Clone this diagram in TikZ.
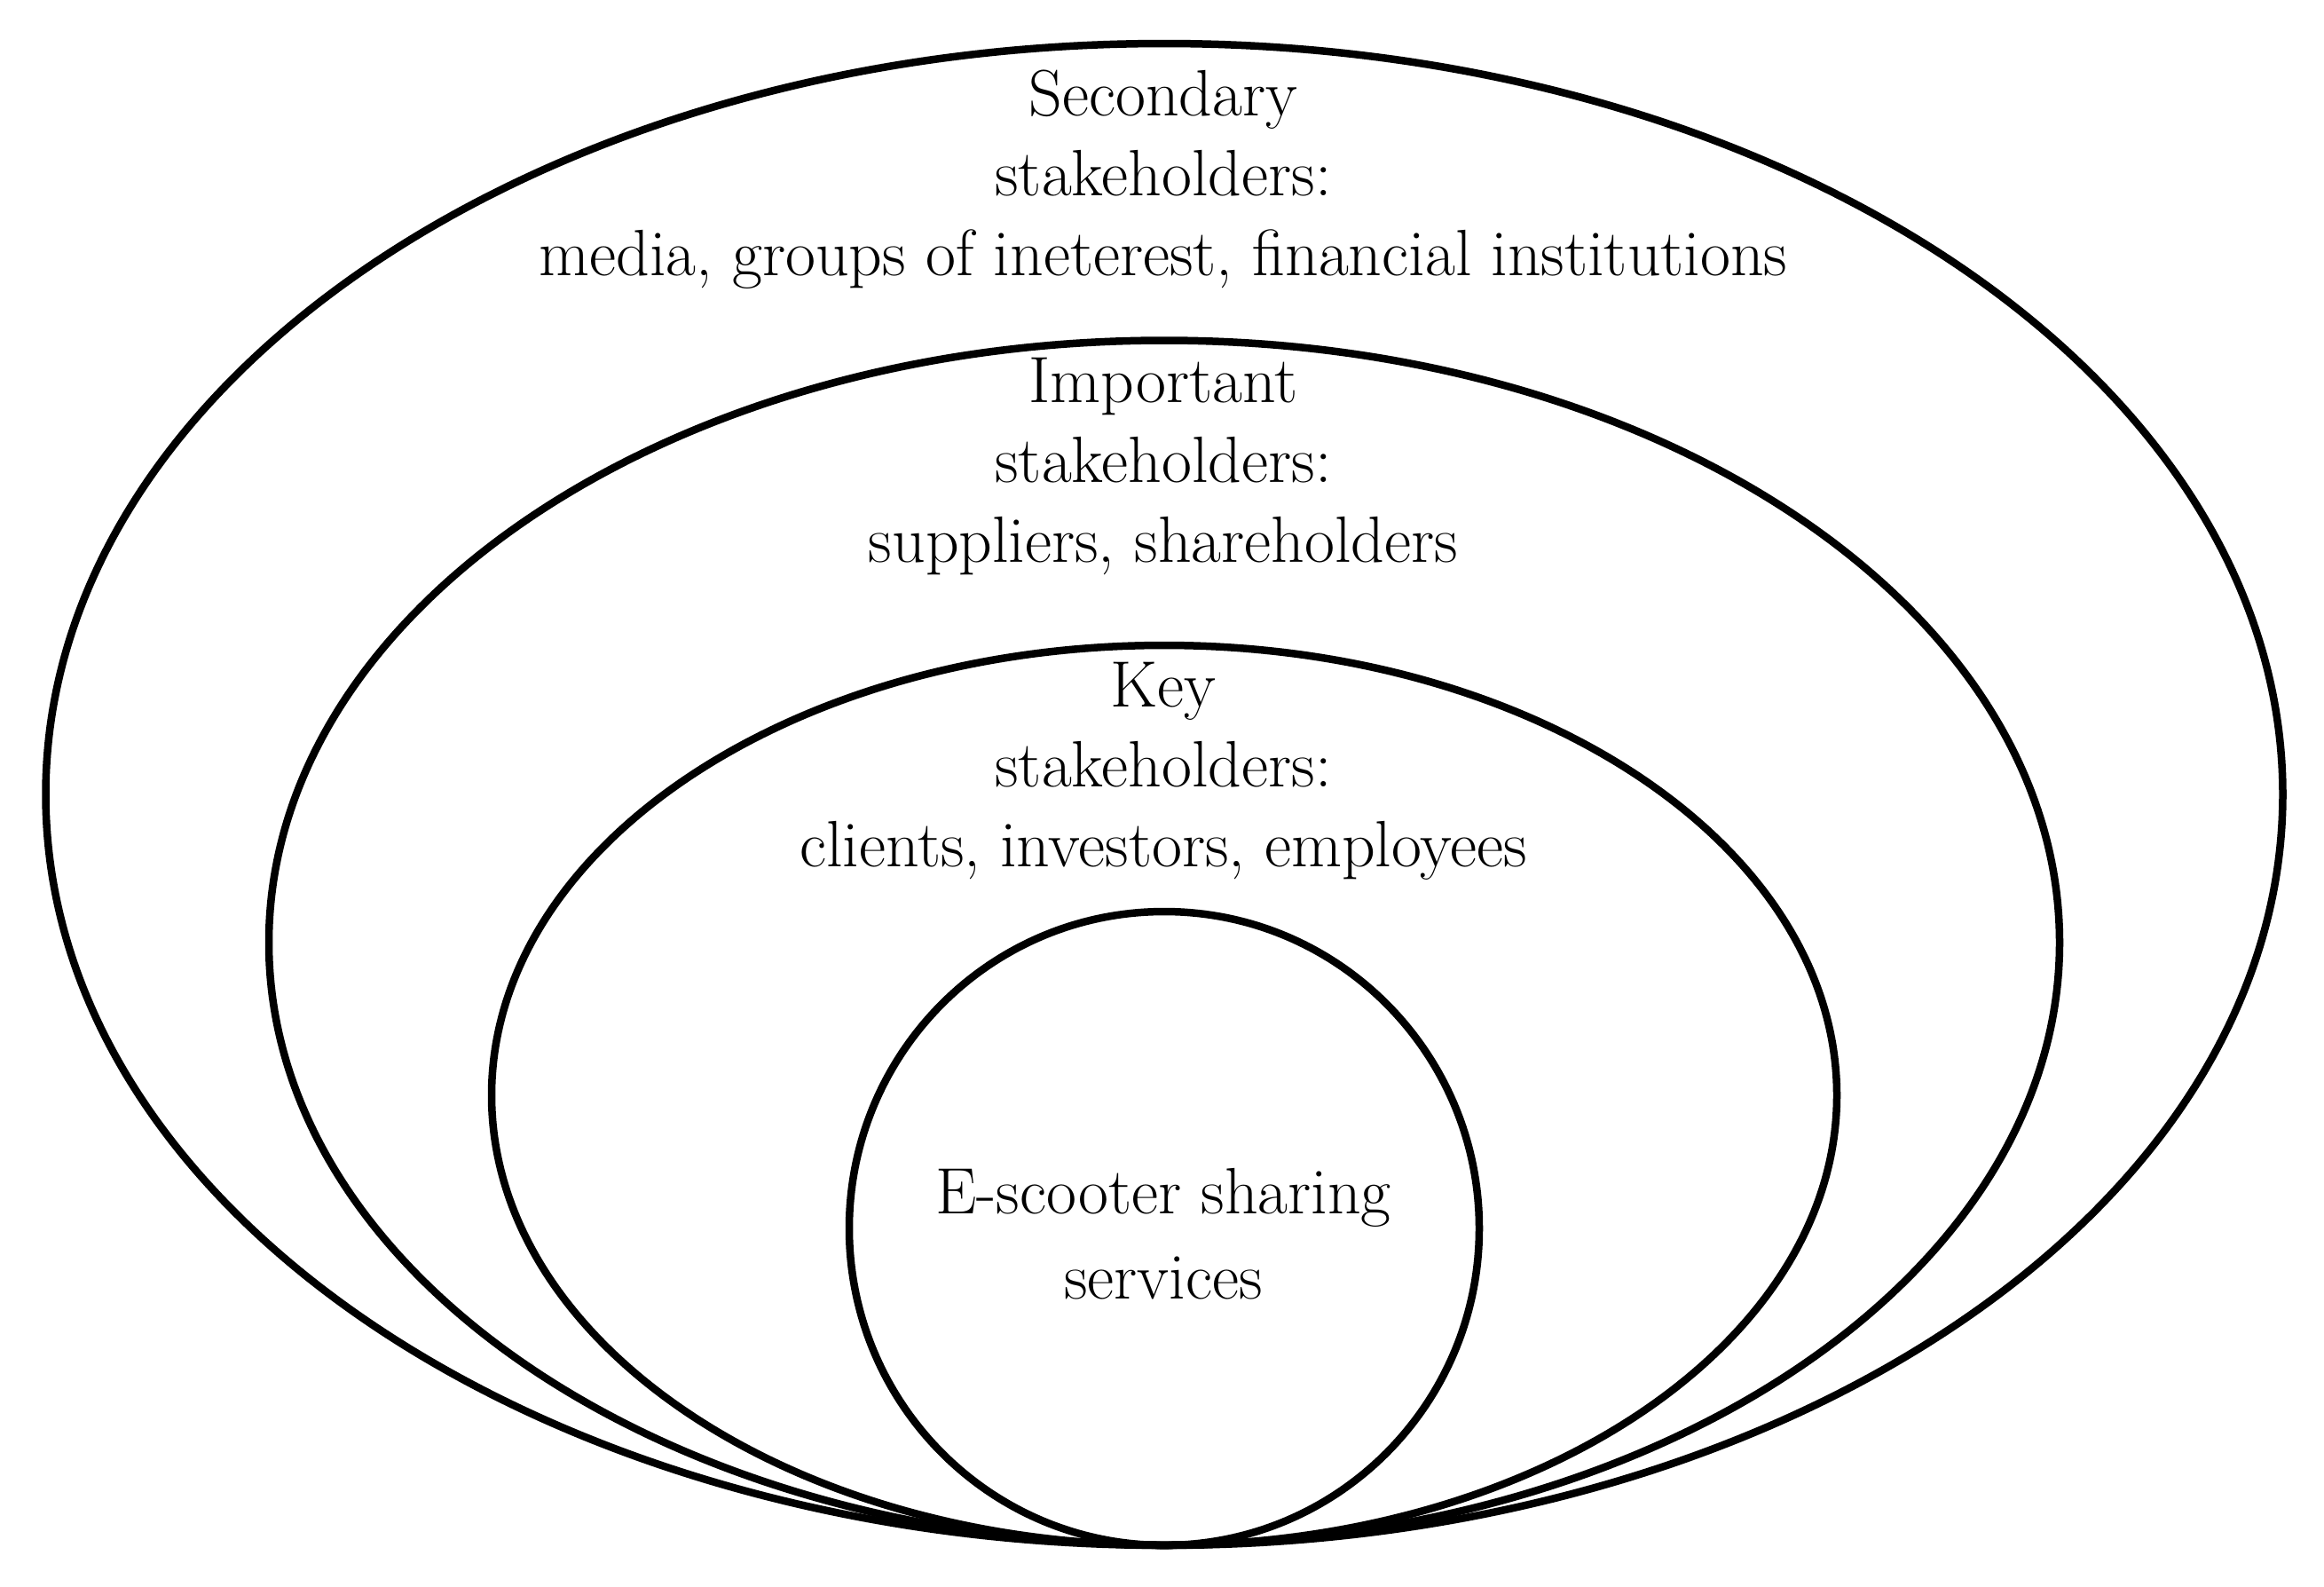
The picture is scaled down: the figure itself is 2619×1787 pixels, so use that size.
\documentclass[tikz,border=0pt]{standalone}
\usetikzlibrary{shapes.geometric}
\begin{document}
\begin{tikzpicture}[x=0.1mm,y=-0.1mm,
  ring/.style={draw=black,line width=0.85mm,ellipse,inner sep=0pt},
  lbl/.style={align=center,font=\fontsize{21}{25.6}\selectfont,inner sep=0pt}]
\path[use as bounding box,fill=white] (0,0) rectangle (2619,1787);
\node[ring,minimum width=252.1mm,minimum height=169.2mm] (outer) at (1312,895) {};
\node[ring,minimum width=201.8mm,minimum height=135.7mm] (important) at (1312,1062) {};
\node[ring,minimum width=151.6mm,minimum height=101.4mm] (key) at (1312,1234) {};
\node[ring,minimum width=71.0mm,minimum height=71.4mm] (core) at (1312,1384) {};
\node[lbl] (tsec) at (1311,202) {Secondary\\stakeholders:\\media, groups of ineterest, financial institutions};
\node[lbl] (timp) at (1311,525) {Important\\stakeholders:\\suppliers, shareholders};
\node[lbl] (tkey) at (1311,869) {Key\\stakeholders:\\clients, investors, employees};
\node[lbl,font=\fontsize{21}{27.5}\selectfont] (tcore) at (1311,1390) {E-scooter sharing\\services};
\end{tikzpicture}
\end{document}
